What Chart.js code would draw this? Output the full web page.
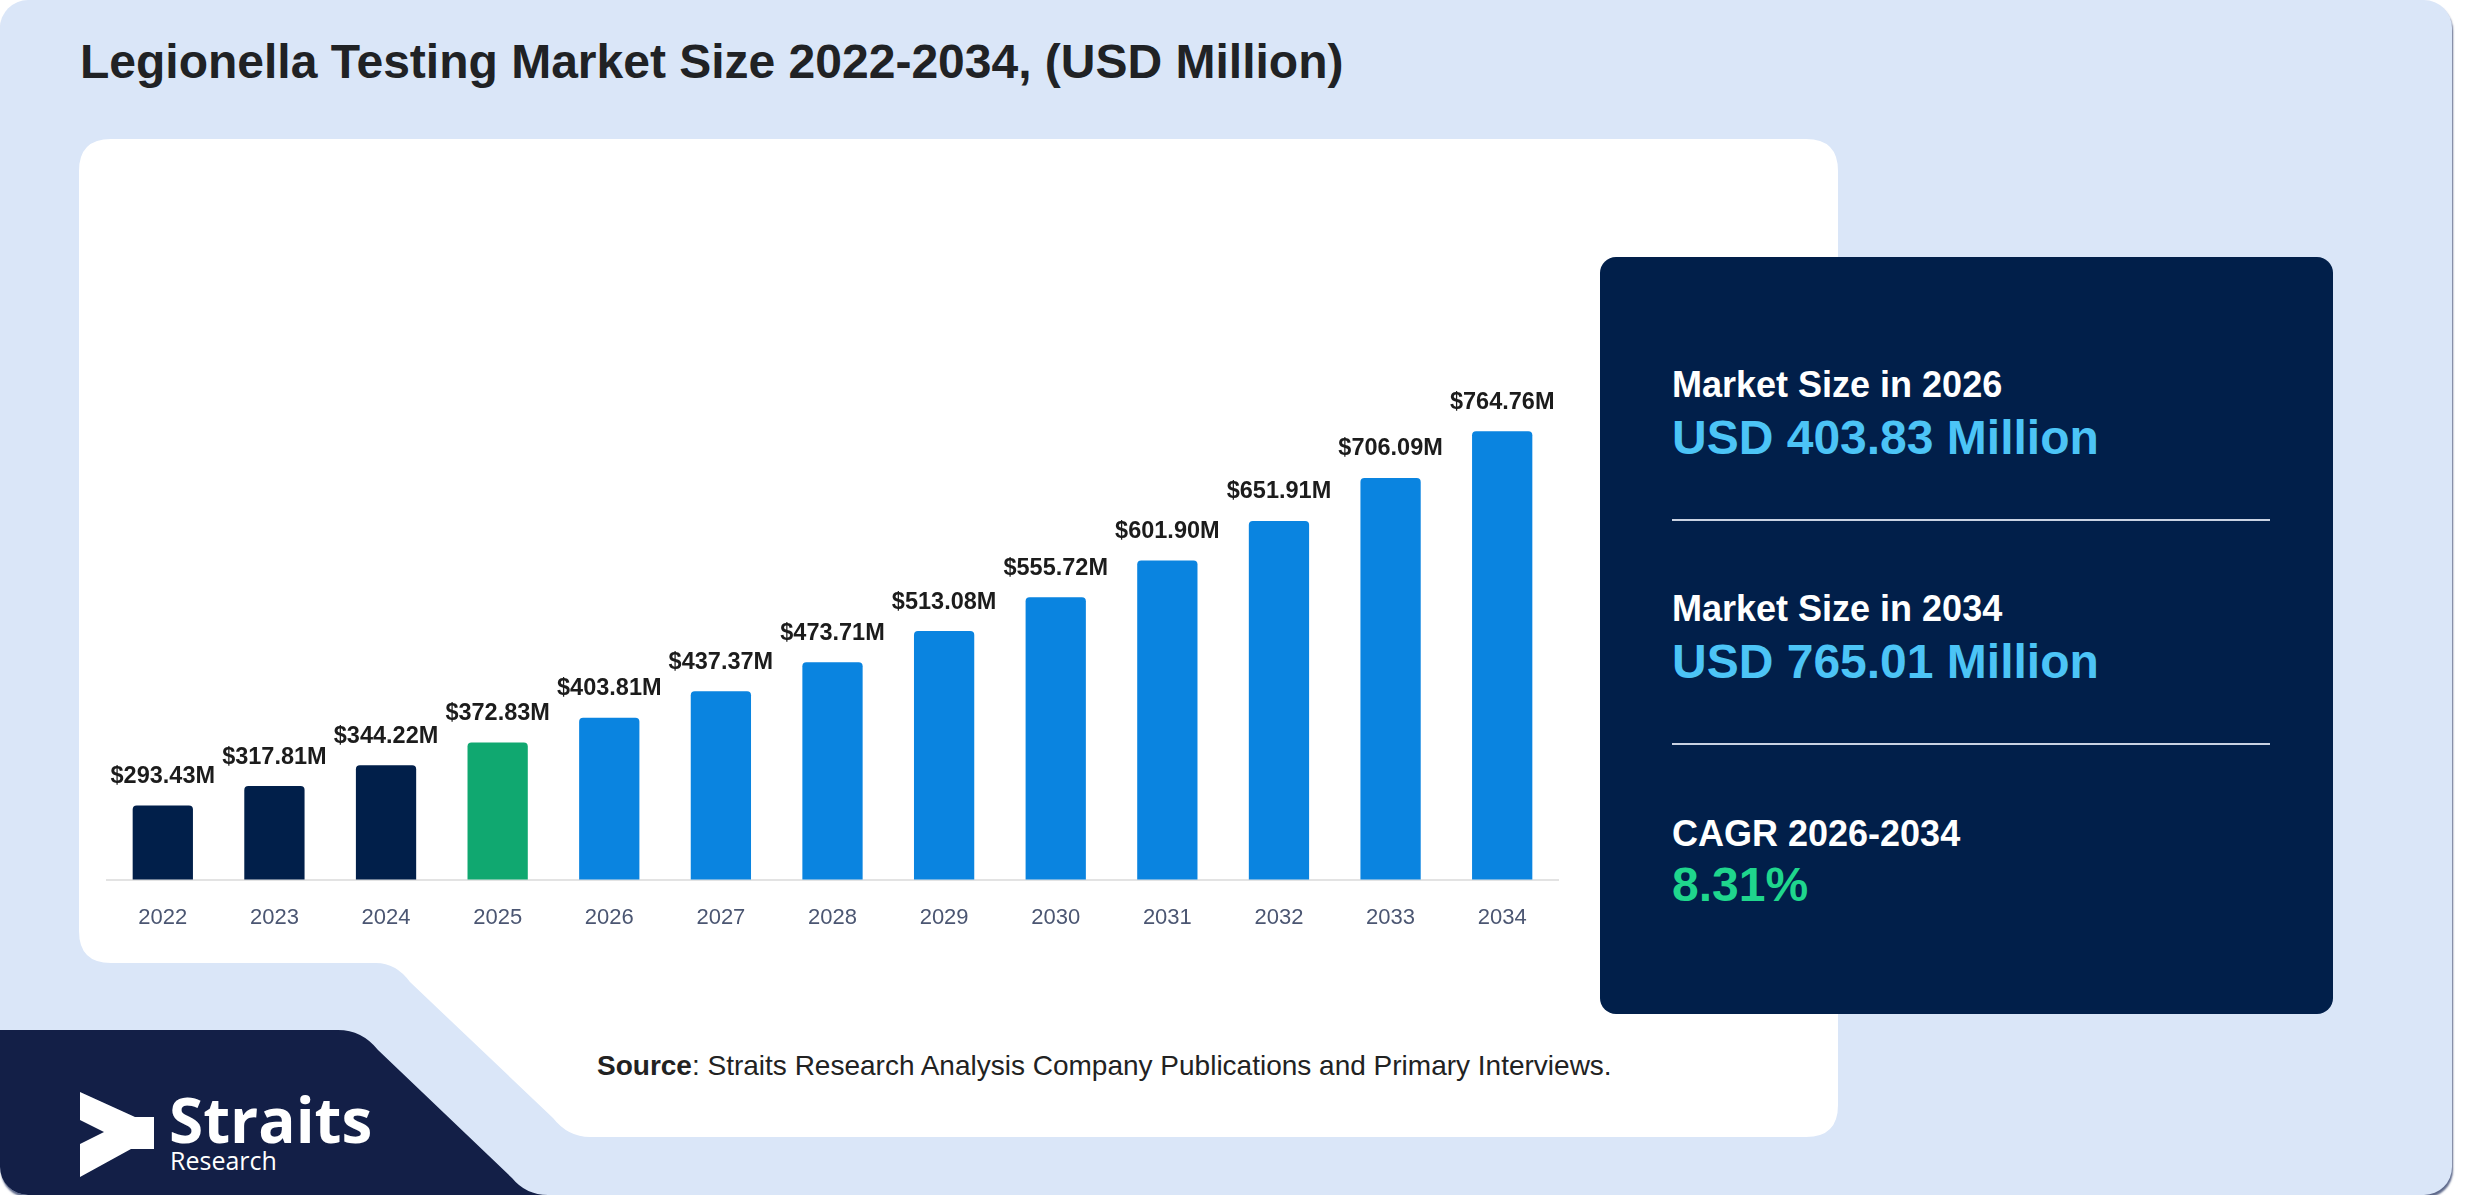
<!DOCTYPE html>
<html>
<head>
<meta charset="utf-8">
<script src="https://cdn.jsdelivr.net/npm/chart.js@4.4.1/dist/chart.umd.min.js"></script>
<style>
    html, body { margin: 0; padding: 0; background: #ffffff; }
    #page {
        position: relative;
        width: 2452px;
        height: 1195px;
        background: #dae6f8;
        border-radius: 28px;
        overflow: hidden;
        box-shadow: 1px 3px 2px rgba(40, 55, 100, 0.75);
        font-family: "Liberation Sans", Arial, sans-serif;
    }
    #shapes { position: absolute; left: 0; top: 0; }
    .abs { position: absolute; white-space: nowrap; line-height: 1; }
    #title { left: 80px; top: 38px; font-size: 48px; font-weight: bold; color: #202225; }
    #chart-box { position: absolute; left: 79px; top: 139px; width: 1500px; height: 821px; }
    #panel {
        position: absolute; left: 1600px; top: 257px; width: 733px; height: 757px;
        background: #011f4a; border-radius: 16px;
    }
    .lbl { color: #ffffff; font-size: 36px; font-weight: bold; }
    .val { color: #4cc4f6; font-size: 48px; font-weight: bold; }
    .cagr { color: #1fd68d; font-size: 48px; font-weight: bold; }
    .rule { position: absolute; left: 72px; width: 598px; height: 2px; background: #c9d2e2; }
    #source { left: 597px; top: 1052px; font-size: 28px; color: #222; }
    .logo1 { left: 169px; top: 1088px; font-family: "Open Sans", sans-serif; font-weight: bold; font-size: 62px; color: #fff; }
    .logo2 { left: 170px; top: 1148px; font-family: "Open Sans", sans-serif; font-size: 25px; color: #fff; }
</style>
</head>
<body>
<div id="page">
    <svg id="shapes" width="2452" height="1195">
        <!-- white card with the notch at the lower left -->
        <path fill="#ffffff" d="M 111,139 H 1806 Q 1838,139 1838,171 V 1105 Q 1838,1137 1806,1137 H 590 Q 568,1137 553,1118 L 410,982 Q 396,963 376,963 H 111 Q 79,963 79,931 V 171 Q 79,139 111,139 Z"/>
        <!-- logo block -->
        <path fill="#131f47" d="M 0,1030 H 338 Q 362,1030 378,1050 L 512,1178 Q 526,1195 548,1195 H 0 Z"/>
        <path fill="#ffffff" d="M 80,1092 L 135,1117 L 154,1117 L 154,1149 L 131,1149 L 80,1177 L 80,1144 L 104,1132 L 80,1120 Z"/>
    </svg>

    <div id="title" class="abs">Legionella Testing Market Size 2022-2034, (USD Million)</div>

    <div id="chart-box"><canvas id="chart"></canvas></div>

    <div id="panel">
        <div class="abs lbl" style="left:72px; top:110px;">Market Size in 2026</div>
        <div class="abs val" style="left:72px; top:157px;">USD 403.83 Million</div>
        <div class="rule" style="top:262px;"></div>
        <div class="abs lbl" style="left:72px; top:334px;">Market Size in 2034</div>
        <div class="abs val" style="left:72px; top:381px;">USD 765.01 Million</div>
        <div class="rule" style="top:486px;"></div>
        <div class="abs lbl" style="left:72px; top:559px;">CAGR 2026-2034</div>
        <div class="abs cagr" style="left:72px; top:604px;">8.31%</div>
    </div>

    <div id="source" class="abs"><b>Source</b>: Straits Research Analysis Company Publications and Primary Interviews.</div>

    <div class="abs logo1">Straits</div>
    <div class="abs logo2">Research</div>
</div>

<script>
const years = ['2022', '2023', '2024', '2025', '2026', '2027', '2028', '2029', '2030', '2031', '2032', '2033', '2034'];
const marketSize = [293.43, 317.81, 344.22, 372.83, 403.81, 437.37, 473.71, 513.08, 555.72, 601.90, 651.91, 706.09, 764.76];
const valueLabels = ['$293.43M', '$317.81M', '$344.22M', '$372.83M', '$403.81M', '$437.37M', '$473.71M',
    '$513.08M', '$555.72M', '$601.90M', '$651.91M', '$706.09M', '$764.76M'];

const historicColor = '#011f4a';
const baseColor = '#10a870';
const forecastColor = '#0a84e0';

const barColors = years.map(y => {
    if (y < '2025') return historicColor;
    if (y === '2025') return baseColor;
    return forecastColor;
});

// labels above the bars
const barLabels = {
    id: 'barLabels',
    afterDatasetsDraw(chart) {
        const ctx = chart.ctx;
        const meta = chart.getDatasetMeta(0);
        ctx.save();
        ctx.font = 'bold 23.5px "Liberation Sans", Arial, sans-serif';
        ctx.fillStyle = '#1c1c1c';
        ctx.textAlign = 'center';
        ctx.textBaseline = 'middle';
        meta.data.forEach((bar, i) => {
            ctx.fillText(valueLabels[i], bar.x, bar.y - 29);
        });
        ctx.restore();
    }
};

function loadGraph() {
    const ctx = document.getElementById('chart').getContext('2d');
    new Chart(ctx, {
        type: 'bar',
        data: {
            labels: years,
            datasets: [{
                data: marketSize,
                backgroundColor: barColors,
                borderRadius: { topLeft: 4, topRight: 4 },
                borderSkipped: 'bottom',
                categoryPercentage: 1,
                barPercentage: 0.54
            }]
        },
        options: {
            responsive: true,
            maintainAspectRatio: false,
            animation: false,
            devicePixelRatio: 1,
            layout: {
                padding: { left: 28, right: 21, top: 185, bottom: 4 }
            },
            scales: {
                x: {
                    grid: { display: false, drawTicks: false },
                    border: { display: true, color: '#e3e3e3', width: 2 },
                    ticks: {
                        padding: 25,
                        color: '#4b5672',
                        font: { family: '"Liberation Sans", Arial, sans-serif', size: 22 }
                    }
                },
                y: {
                    display: false,
                    min: 200,
                    max: 900
                }
            },
            plugins: {
                legend: { display: false },
                tooltip: { enabled: false }
            }
        },
        plugins: [barLabels]
    });
}

document.addEventListener('DOMContentLoaded', loadGraph);
</script>
</body>
</html>
